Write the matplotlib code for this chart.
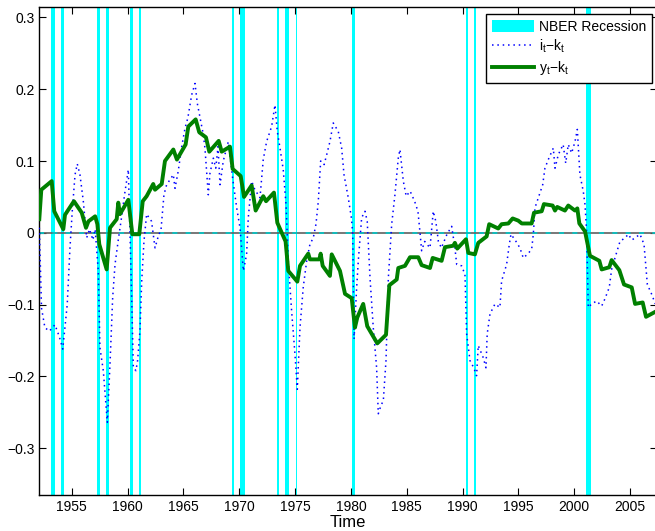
# investment-capital and output-capital ratios with NBER recessions
import numpy as np
import matplotlib
matplotlib.use('Agg')
import matplotlib.pyplot as plt
from matplotlib.patches import Patch
from matplotlib.lines import Line2D
from matplotlib.ticker import FuncFormatter

plt.rcParams['font.family'] = ['Liberation Sans', 'DejaVu Sans']
plt.rcParams['mathtext.default'] = 'regular'

# recession marks: centre year, width in years
rec_center = [1953.33, 1954.15, 1957.40, 1958.19, 1960.34, 1961.10, 1969.46, 1970.29,
              1973.44, 1974.29, 1975.12, 1980.23, 1990.39, 1991.10, 2001.27]
rec_width = [0.30, 0.27, 0.21, 0.24, 0.30, 0.21, 0.15, 0.45,
             0.18, 0.39, 0.15, 0.33, 0.24, 0.18, 0.45]

# y_t - k_t
yk_year = [1952.10, 1952.28, 1953.21, 1953.44, 1954.25, 1954.40, 1955.20, 1955.90, 1956.28, 1956.50,
           1957.10, 1957.30, 1957.47, 1958.13, 1958.43, 1959.03, 1959.17, 1959.32, 1960.07, 1960.43,
           1961.05, 1961.36, 1961.71, 1962.30, 1962.46, 1963.06, 1963.35, 1964.10, 1964.42, 1965.20,
           1965.44, 1966.10, 1966.42, 1967.02, 1967.32, 1968.16, 1968.43, 1969.17, 1969.41, 1970.13,
           1970.43, 1971.11, 1971.47, 1972.15, 1972.40, 1973.11, 1973.41, 1974.15, 1974.39, 1975.20,
           1975.44, 1976.18, 1976.33, 1977.17, 1977.29, 1977.47, 1978.12, 1978.28, 1979.02, 1979.47,
           1980.07, 1980.36, 1980.57, 1981.10, 1981.46, 1982.36, 1983.14, 1983.44, 1984.10, 1984.24,
           1984.84, 1985.29, 1986.03, 1986.33, 1987.08, 1987.32, 1988.12, 1988.42, 1989.16, 1989.31,
           1989.52, 1990.30, 1990.51, 1991.10, 1991.40, 1992.15, 1992.38, 1993.19, 1993.49, 1994.09,
           1994.48, 1994.98, 1995.30, 1996.18, 1996.39, 1997.08, 1997.28, 1998.06, 1998.27, 1998.47,
           1999.16, 1999.46, 2000.06, 2000.27, 2000.45, 2000.96, 2001.40, 2002.24, 2002.45, 2003.13,
           2003.34, 2004.03, 2004.45, 2005.14, 2005.44, 2006.12, 2006.42, 2007.25]
yk_val = [0.019, 0.060, 0.072, 0.030, 0.005, 0.025, 0.044, 0.028, 0.007, 0.016,
          0.023, 0.012, -0.016, -0.051, 0.007, 0.019, 0.042, 0.026, 0.046, -0.002,
          -0.002, 0.044, 0.051, 0.068, 0.060, 0.068, 0.100, 0.116, 0.102, 0.123,
          0.148, 0.158, 0.140, 0.133, 0.113, 0.128, 0.113, 0.120, 0.089, 0.079,
          0.050, 0.066, 0.031, 0.051, 0.044, 0.056, 0.014, -0.012, -0.053, -0.068,
          -0.046, -0.029, -0.037, -0.037, -0.029, -0.046, -0.060, -0.030, -0.053, -0.085,
          -0.091, -0.132, -0.118, -0.099, -0.130, -0.154, -0.142, -0.073, -0.065, -0.049,
          -0.046, -0.034, -0.034, -0.045, -0.049, -0.035, -0.039, -0.020, -0.018, -0.014,
          -0.022, -0.009, -0.028, -0.030, -0.014, -0.005, 0.012, 0.006, 0.012, 0.013,
          0.020, 0.017, 0.013, 0.013, 0.028, 0.030, 0.040, 0.038, 0.031, 0.036,
          0.031, 0.038, 0.031, 0.034, 0.013, 0.002, -0.032, -0.039, -0.051, -0.048,
          -0.038, -0.052, -0.072, -0.076, -0.099, -0.097, -0.117, -0.110]

# i_t - k_t
ik_year = [1952.10, 1952.30, 1952.60, 1953.00, 1953.50, 1953.90, 1954.20, 1954.60, 1954.85, 1955.05,
           1955.30, 1955.50, 1955.74, 1956.04, 1956.34, 1956.60, 1956.90, 1957.10, 1957.38, 1957.53,
           1957.83, 1958.19, 1958.43, 1958.67, 1958.88, 1959.17, 1959.45, 1959.75, 1960.07, 1960.37,
           1960.52, 1960.75, 1960.90, 1961.11, 1961.27, 1961.47, 1961.71, 1962.15, 1962.46, 1962.75,
           1963.00, 1963.26, 1963.50, 1964.10, 1964.25, 1964.54, 1964.85, 1965.15, 1965.40, 1965.74,
           1966.04, 1966.25, 1966.50, 1966.78, 1966.93, 1967.23, 1967.38, 1967.68, 1967.90, 1968.10,
           1968.28, 1968.57, 1969.02, 1969.41, 1969.77, 1970.07, 1970.37, 1970.66, 1970.81, 1971.11,
           1971.40, 1971.86, 1972.15, 1972.45, 1972.90, 1973.20, 1973.41, 1973.65, 1973.94, 1974.19,
           1974.39, 1974.69, 1974.99, 1975.20, 1975.44, 1975.73, 1976.04, 1976.33, 1976.63, 1976.87,
           1977.08, 1977.29, 1977.60, 1977.85, 1978.12, 1978.42, 1978.87, 1979.17, 1979.38, 1979.76,
           1980.05, 1980.16, 1980.28, 1980.50, 1980.66, 1980.96, 1981.26, 1981.46, 1981.71, 1982.00,
           1982.30, 1982.45, 1982.70, 1982.90, 1983.14, 1983.35, 1983.65, 1983.94, 1984.24, 1984.39,
           1984.69, 1984.95, 1985.30, 1985.70, 1986.00, 1986.20, 1986.33, 1986.60, 1987.08, 1987.37,
           1987.60, 1987.83, 1988.10, 1988.60, 1989.02, 1989.31, 1989.47, 1989.91, 1990.21, 1990.36,
           1990.66, 1991.00, 1991.25, 1991.40, 1991.85, 1992.09, 1992.20, 1992.45, 1992.90, 1993.34,
           1993.49, 1993.94, 1994.18, 1994.33, 1994.70, 1995.13, 1995.43, 1995.80, 1996.18, 1996.33,
           1996.48, 1996.80, 1997.17, 1997.37, 1997.67, 1998.12, 1998.27, 1998.57, 1999.00, 1999.23,
           1999.46, 1999.76, 2000.06, 2000.27, 2000.50, 2000.80, 2000.96, 2001.10, 2001.25, 2001.55,
           2002.00, 2002.45, 2002.74, 2003.13, 2003.34, 2003.64, 2004.09, 2004.54, 2004.84, 2005.15,
           2005.44, 2005.88, 2006.24, 2006.42, 2006.54, 2006.94, 2007.25]
ik_val = [0.007, -0.105, -0.132, -0.137, -0.128, -0.145, -0.162, -0.100, -0.020, 0.030,
          0.081, 0.096, 0.081, 0.044, -0.007, 0.005, -0.010, 0.005, -0.053, -0.160,
          -0.192, -0.264, -0.183, -0.090, -0.044, -0.010, 0.020, 0.055, 0.088, -0.090,
          -0.188, -0.192, -0.178, -0.137, -0.067, -0.012, 0.026, 0.016, -0.021, -0.005,
          0.005, 0.053, 0.067, 0.081, 0.062, 0.086, 0.120, 0.146, 0.160, 0.192,
          0.208, 0.180, 0.160, 0.137, 0.118, 0.053, 0.083, 0.104, 0.090, 0.120,
          0.067, 0.100, 0.127, 0.076, 0.035, 0.007, -0.053, -0.030, 0.021, 0.072,
          0.060, 0.049, 0.102, 0.127, 0.148, 0.178, 0.141, 0.118, 0.088, 0.039,
          -0.039, -0.109, -0.169, -0.218, -0.132, -0.076, -0.039, -0.016, -0.007, 0.012,
          0.044, 0.100, 0.095, 0.110, 0.127, 0.153, 0.141, 0.118, 0.081, 0.049,
          0.020, -0.002, -0.148, -0.080, -0.039, 0.021, 0.030, 0.016, -0.063, -0.132,
          -0.188, -0.252, -0.240, -0.234, -0.178, -0.063, 0.012, 0.053, 0.104, 0.116,
          0.072, 0.051, 0.058, 0.044, 0.030, -0.002, -0.025, -0.012, -0.021, 0.030,
          0.016, -0.012, -0.021, -0.002, 0.009, -0.021, -0.044, -0.046, -0.058, -0.141,
          -0.178, -0.188, -0.199, -0.157, -0.174, -0.188, -0.141, -0.113, -0.099, -0.104,
          -0.067, -0.044, -0.016, -0.002, -0.010, -0.021, -0.035, -0.030, -0.023, -0.002,
          0.035, 0.050, 0.067, 0.090, 0.102, 0.118, 0.090, 0.109, 0.123, 0.097,
          0.123, 0.111, 0.127, 0.144, 0.081, 0.058, 0.039, 0.002, -0.104, -0.099,
          -0.095, -0.102, -0.092, -0.076, -0.051, -0.035, -0.012, -0.007, -0.002, -0.010,
          -0.007, -0.002, -0.016, -0.049, -0.072, -0.086, -0.099]

xticks = [1955, 1960, 1965, 1970, 1975, 1980, 1985, 1990, 1995, 2000, 2005]
yticks = [-0.3, -0.2, -0.1, 0, 0.1, 0.2, 0.3]

fig = plt.figure(figsize=(6.55, 5.31), dpi=100)
ax = fig.add_axes([0.06, 0.068, 0.943, 0.9195])

for c, w in zip(rec_center, rec_width):
    ax.axvspan(c - w / 2, c + w / 2, color='cyan', lw=0, zorder=1)

ax.axhline(0, color='#606060', lw=1.2, zorder=2)
ax.axhline(0, color='#00c8c8', lw=1.2, ls=(0, (3, 5)), zorder=2)

ax.plot(ik_year, ik_val, color='blue', ls=(0, (1, 2.5)), lw=1.1, zorder=3)
ax.plot(yk_year, yk_val, color='green', lw=2.8, zorder=4)

ax.set_xlim(1952.1, 2007.4)
ax.set_ylim(-0.365, 0.315)
ax.set_xticks(xticks)
ax.set_yticks(yticks)
ax.yaxis.set_major_formatter(FuncFormatter(lambda v, p: '0' if abs(v) < 1e-9 else ('%.1f' % v).replace('-', '\u2212')))
ax.tick_params(direction='in', length=5, top=True, right=True, labelsize=10, width=0.8)
for s in ax.spines.values():
    s.set_linewidth(1.0)
ax.set_xlabel('Time', fontsize=12, labelpad=1)

handles = [Patch(facecolor='cyan', edgecolor='none'),
           Line2D([], [], color='blue', ls=(0, (1, 2.5)), lw=1.1),
           Line2D([], [], color='green', lw=2.8)]
labels = ['NBER Recession', 'i$_t$\u2212k$_t$', 'y$_t$\u2212k$_t$']
leg = ax.legend(handles, labels, loc='upper right', bbox_to_anchor=(0.992, 0.985),
                borderaxespad=0, fancybox=False, framealpha=1, edgecolor='black',
                fontsize=10, handlelength=3.0, handleheight=0.95, handletextpad=0.4,
                labelspacing=0.3, borderpad=0.4)
leg.get_frame().set_linewidth(1.0)

fig.savefig('out.png', dpi=100)
